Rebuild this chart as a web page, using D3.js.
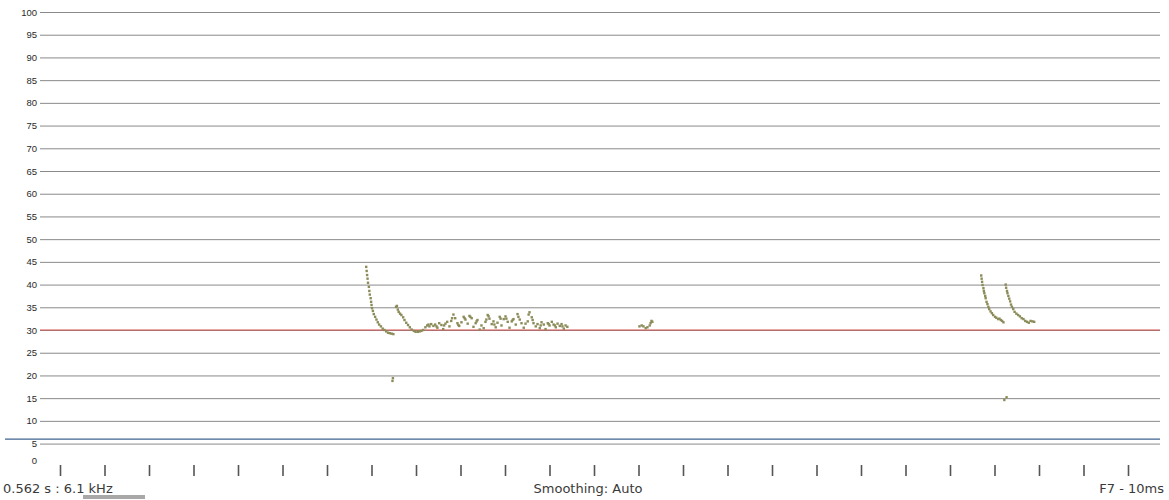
<!DOCTYPE html>
<html lang="en">
<head>
  <meta charset="UTF-8">
  <title>Pitch track</title>
  <script src="https://d3js.org/d3.v7.min.js"></script>
  <style>
    body { margin: 0; background: #fff; font-family: "DejaVu Sans", Verdana, sans-serif; }
    .grid line { stroke: #8a8a8a; stroke-width: 1; }
    .grid path { display: none; }
    .yaxis text { font-size: 9.5px; fill: #2a2a2a; }
    .yaxis path, .yaxis line { display: none; }
    .footer { font-size: 13px; fill: #3a3a3a; }
  </style>
</head>
<body>
  <svg width="1169" height="500"></svg>

  <script>
    // y ticks (0..100) and bottom tick positions (tick units)
    const yTicks = d3.range(0, 101, 5);
    const xTicks = d3.range(0, 25);

    const refLine = 30;      // red reference
    const floorLine = 6;     // blue line

    // pitch dots: [x (tick units), value]
    const curveA = [
      [6.87, 43.9], [6.88, 43.0], [6.89, 42.1], [6.90, 41.3], [6.91, 40.4], [6.93, 39.5],
      [6.94, 38.6], [6.95, 37.8], [6.97, 37.0], [6.98, 36.2], [6.99, 35.5], [7.00, 34.8],
      [7.02, 34.2], [7.04, 33.5], [7.07, 32.9], [7.10, 32.3], [7.13, 31.7], [7.16, 31.2],
      [7.20, 30.8], [7.24, 30.3], [7.28, 30.0], [7.32, 29.7], [7.36, 29.4], [7.40, 29.3],
      [7.44, 29.2], [7.48, 29.1]
    ];
    const outliersA = [[7.47, 19.4], [7.46, 18.8]];

    const curveB = [
      [7.54, 35.1], [7.56, 35.3], [7.58, 34.5], [7.60, 34.0], [7.63, 33.6], [7.66, 33.3],
      [7.70, 32.8], [7.73, 32.2], [7.77, 31.6], [7.81, 31.1], [7.85, 30.6], [7.89, 30.1],
      [7.94, 29.8], [7.98, 29.6], [8.03, 29.6], [8.07, 29.7], [8.11, 29.8],
      [8.15, 30.0], [8.20, 30.6], [8.24, 31.0], [8.29, 30.8], [8.33, 31.3], [8.38, 30.9],
      [8.42, 31.2], [8.47, 30.5], [8.51, 31.5], [8.56, 31.1], [8.60, 30.2], [8.65, 31.4],
      [8.69, 31.8], [8.74, 30.8], [8.78, 32.0], [8.83, 33.4], [8.87, 32.6], [8.92, 31.5],
      [8.96, 30.9], [9.01, 31.7], [9.06, 32.9], [9.10, 32.3], [9.15, 31.4], [9.19, 33.1],
      [9.24, 32.6], [9.28, 30.7], [9.33, 31.5], [9.37, 32.2], [9.42, 30.1], [9.46, 31.0],
      [9.51, 30.4], [9.55, 31.8], [9.60, 33.3], [9.64, 32.5], [9.69, 31.3], [9.73, 31.9],
      [9.78, 30.6], [9.82, 31.6], [9.87, 32.9], [9.91, 31.0], [9.96, 32.4], [10.00, 33.0],
      [10.05, 31.8], [10.09, 30.5], [10.14, 31.9], [10.18, 32.4], [10.23, 31.2], [10.27, 33.5],
      [10.32, 32.3], [10.36, 31.5], [10.41, 30.5], [10.45, 31.4], [10.50, 31.9], [10.54, 33.9],
      [10.59, 32.8], [10.63, 31.5], [10.68, 30.8], [10.72, 31.3], [10.77, 30.4], [10.81, 31.7],
      [10.86, 31.2], [10.90, 30.2], [10.95, 31.5], [10.99, 31.0], [11.04, 31.8], [11.08, 31.2],
      [11.13, 30.6], [11.17, 31.4], [11.22, 30.9], [11.26, 31.3], [11.31, 30.3], [11.35, 31.0],
      [11.39, 30.7],
      // second layer of the noisy stretch
      [8.27, 31.2], [8.45, 30.8], [8.62, 31.0], [8.80, 32.6], [8.94, 31.1], [9.08, 32.6],
      [9.21, 32.9], [9.35, 31.9], [9.57, 32.3], [9.62, 33.0], [9.75, 31.2], [9.89, 32.5],
      [10.02, 32.5], [10.16, 32.2], [10.29, 32.9], [10.52, 33.4], [10.61, 32.2], [10.79, 31.0],
      [10.97, 31.3], [11.11, 31.0], [11.28, 30.8]
    ];

    const curveC = [
      [13.01, 30.8], [13.06, 31.0], [13.10, 30.8], [13.15, 30.4], [13.19, 30.6],
      [13.24, 31.0], [13.26, 31.5], [13.28, 32.0], [13.30, 31.8]
    ];

    const curveD1 = [
      [20.69, 42.0], [20.70, 41.3], [20.71, 40.6], [20.72, 39.9], [20.74, 39.2], [20.75, 38.6],
      [20.76, 38.1], [20.78, 37.5], [20.79, 37.0], [20.81, 36.2], [20.83, 35.7], [20.85, 35.1],
      [20.87, 34.6], [20.90, 34.1], [20.93, 33.7], [20.96, 33.3], [21.00, 32.9], [21.03, 32.7],
      [21.07, 32.4], [21.10, 32.5], [21.13, 32.2], [21.16, 32.0], [21.19, 31.7]
    ];
    const outliersD = [[21.21, 14.6], [21.26, 15.2]];

    const curveD2 = [
      [21.24, 40.0], [21.25, 39.3], [21.27, 38.6], [21.28, 38.1], [21.30, 37.5], [21.32, 36.9],
      [21.34, 36.3], [21.36, 35.6], [21.38, 35.1], [21.41, 34.6], [21.44, 34.0], [21.48, 33.6],
      [21.52, 33.3], [21.56, 33.0], [21.60, 32.6], [21.64, 32.4], [21.68, 32.0], [21.72, 31.8],
      [21.76, 31.6], [21.80, 32.0], [21.84, 31.9], [21.88, 31.8]
    ];

    const footerLeft = "0.562 s : 6.1 kHz";
    const footerMid = "Smoothing: Auto";
    const footerRight = "F7 - 10ms";

    const svg = d3.select("svg");
    const plotLeft = 40, plotRight = 1160;

    const y = d3.scaleLinear().domain([0, 100]).range([466.3, 12]);
    const x = d3.scaleLinear().domain([0, 24]).range([60.5, 1128.5]);

    // horizontal gridlines (no line at 0)
    svg.append("g")
      .attr("class", "grid")
      .attr("transform", `translate(${plotLeft},0)`)
      .call(d3.axisLeft(y).tickValues(yTicks.filter(d => d > 0))
        .tickSize(-(plotRight - plotLeft)).tickFormat(""));

    // y labels
    const yAxis = svg.append("g")
      .attr("class", "yaxis")
      .attr("transform", `translate(${plotLeft - 2},0)`)
      .call(d3.axisLeft(y).tickValues(yTicks).tickSize(0).tickPadding(1));
    yAxis.selectAll(".tick")
      .filter(d => d === 0)
      .select("text").attr("dy", "-0.3em");

    // reference lines
    svg.append("line")
      .attr("x1", plotLeft).attr("x2", plotRight)
      .attr("y1", y(refLine)).attr("y2", y(refLine))
      .attr("stroke", "#d9534f").attr("stroke-width", 1.2);

    svg.append("line")
      .attr("x1", 5).attr("x2", plotRight)
      .attr("y1", y(floorLine)).attr("y2", y(floorLine))
      .attr("stroke", "#3f6391").attr("stroke-width", 1.3);

    // bottom ticks
    svg.append("g")
      .selectAll("line")
      .data(xTicks)
      .join("line")
        .attr("x1", d => x(d)).attr("x2", d => x(d))
        .attr("y1", 465).attr("y2", 476)
        .attr("stroke", "#555").attr("stroke-width", 1.6);

    // dots
    const allDots = [].concat(curveA, outliersA, curveB, curveC, curveD1, outliersD, curveD2);
    svg.append("g")
      .selectAll("rect")
      .data(allDots)
      .join("rect")
        .attr("x", d => x(d[0]) - 1.2)
        .attr("y", d => y(d[1]) - 1.2)
        .attr("width", 2.4).attr("height", 2.4)
        .attr("fill", "#8c8c5a");

    // footer
    svg.append("text").attr("class", "footer")
      .attr("x", 3).attr("y", 493).text(footerLeft);
    svg.append("text").attr("class", "footer")
      .attr("x", 588).attr("y", 493).attr("text-anchor", "middle").text(footerMid);
    svg.append("text").attr("class", "footer")
      .attr("x", 1164).attr("y", 493).attr("text-anchor", "end").text(footerRight);

    svg.append("rect")
      .attr("x", 83).attr("y", 495).attr("width", 62).attr("height", 4)
      .attr("fill", "#a8a8a8");
  </script>
</body>
</html>
